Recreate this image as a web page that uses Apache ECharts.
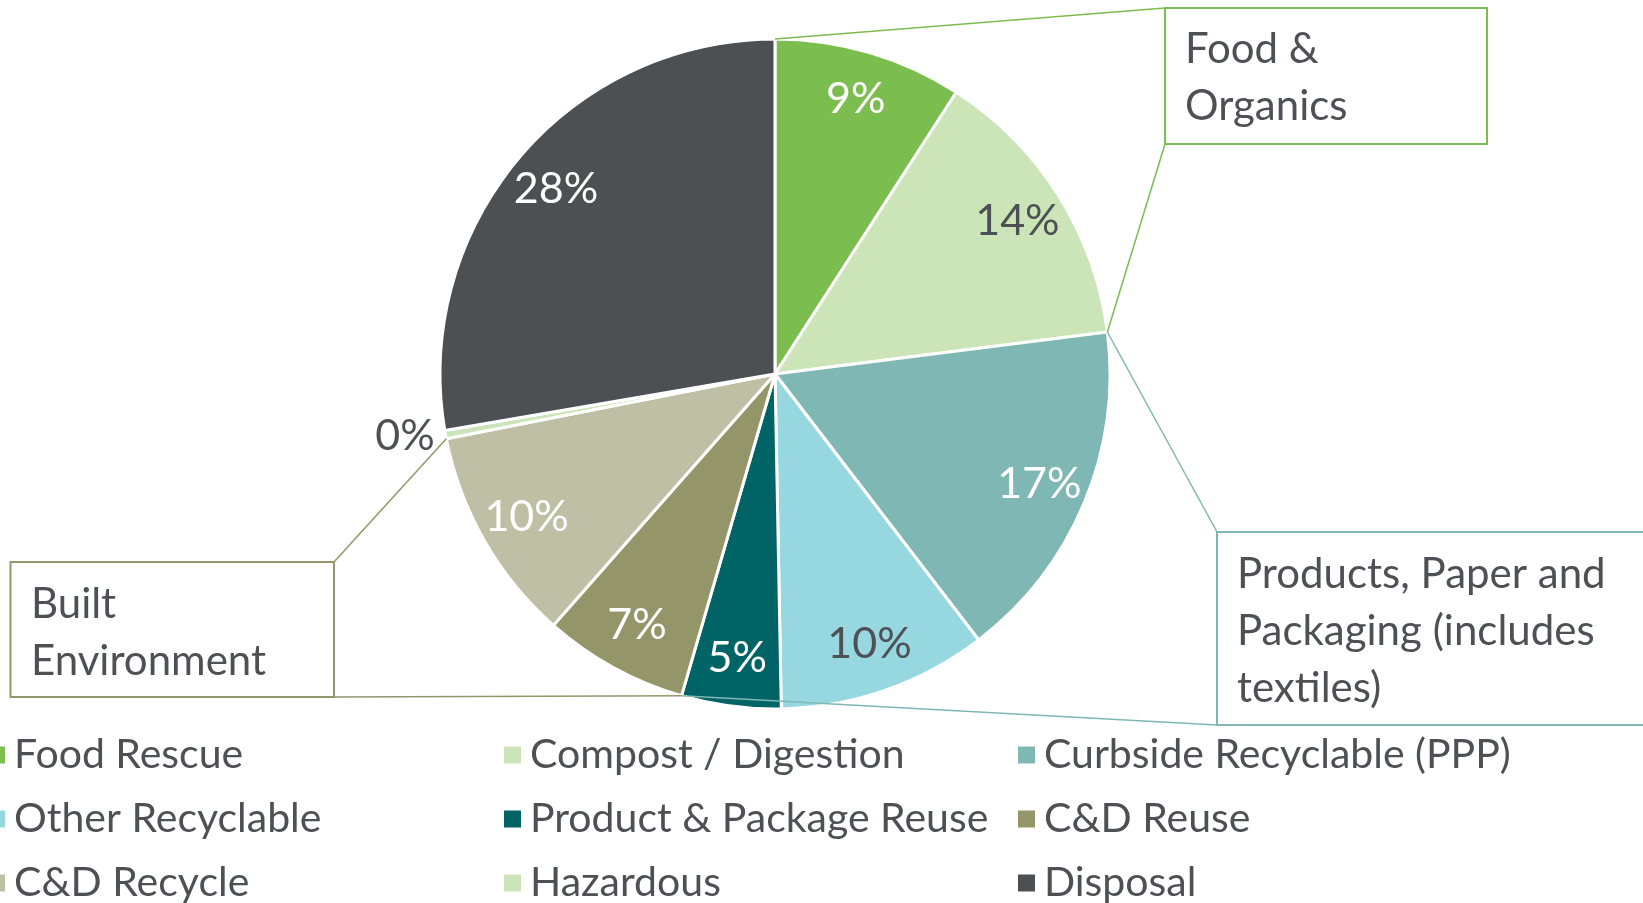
<!DOCTYPE html>
<html><head><meta charset="utf-8">
<script src="https://cdn.jsdelivr.net/npm/echarts@6/dist/echarts.min.js"></script>
<style>html,body{margin:0;padding:0;background:#fff;overflow:hidden}#c{width:1643px;height:903px}</style>
</head><body><div id="c"></div>
<script>
// ---- data ----
const categories = ['Food Rescue','Compost / Digestion','Curbside Recyclable (PPP)','Other Recyclable','Product & Package Reuse','C&D Reuse','C&D Recycle','Hazardous','Disposal'];
const shares = [9.1, 13.9, 16.6, 10.1, 4.8, 7.0, 10.4, 0.4, 27.7];
const sliceColors = ['#7cbd4f','#cce5b8','#7fb7b4','#96d7e0','#006365','#95956a','#bfbfa5','#cce5b8','#4d5053'];
const labelColors = ['#ffffff','#4d5054','#ffffff','#4d5054','#ffffff','#ffffff','#ffffff','#4d5054','#ffffff'];
const groupNames = ['Food &\nOrganics', 'Products, Paper and\nPackaging (includes\ntextiles)', 'Built\nEnvironment'];
const groupFirst = [0, 2, 5];
const groupLast = [1, 4, 6];
const groupColors = ['#7cbd4f', '#7fb7b4', '#95956a'];
const legendColumns = [[0,3,6],[1,4,7],[2,5,8]];

// ---- layout ----
const FONT = 'Lato, "Noto Sans", sans-serif';
const TXT = '#4d5054';
const CX = 775, CY = 374, R = 335;
const total = shares.reduce((a,b)=>a+b,0);
function cumBefore(i){ let s=0; for(let k=0;k<i;k++) s+=shares[k]; return s; }
function edgePoint(cum){
  const a = cum/total*2*Math.PI;
  return [CX + R*Math.sin(a), CY - R*Math.cos(a)];
}

const chart = echarts.init(document.getElementById('c'), null, {renderer:'canvas'});

const mainData = categories.map((n,i)=>{
  const d = {name:n, value:shares[i], itemStyle:{color:sliceColors[i]}};
  if (i === 7) {
    d.label = {show:true, position:'outside', color:TXT, fontSize:43, fontFamily:FONT,
      formatter: p => Math.round(p.value)+'%'};
    d.labelLine = {show:false, length:6, length2:0};
  }
  return d;
});
const overlayData = categories.map((n,i)=>({
  name:n, value:shares[i],
  label:{show: i !== 7, color: labelColors[i]}
}));

// callout boxes
const boxes = [
  {x:1165, y:8, w:322, h:136, tx:1185, ty:21, anchor:'left'},
  {x:1217, y:532, w:440, h:193, tx:1237, ty:546, anchor:'left'},
  {x:10.5, y:562, w:323.5, h:135, tx:31, ty:576, anchor:'right'}
];
const graphics = [];
boxes.forEach((b,gi)=>{
  const col = groupColors[gi];
  const pStart = edgePoint(cumBefore(groupFirst[gi]));
  const pEnd = edgePoint(cumBefore(groupLast[gi]+1));
  graphics.push({type:'rect', z:100, shape:{x:b.x, y:b.y, width:b.w, height:b.h},
    style:{fill:'#fff', stroke:col, lineWidth:2}});
  graphics.push({type:'text', z:101, style:{x:b.tx, y:b.ty, text:groupNames[gi], fill:TXT,
    font:'42px '+FONT, lineHeight:57, verticalAlign:'top'}});
  let c1, c2;
  if (b.anchor === 'left') {
    c1 = [b.x, b.y]; c2 = [b.x, b.y+b.h];
    graphics.push({type:'line', z:100, shape:{x1:pStart[0],y1:pStart[1],x2:c1[0],y2:c1[1]}, style:{stroke:col, lineWidth:1.5}});
    graphics.push({type:'line', z:100, shape:{x1:pEnd[0],y1:pEnd[1],x2:c2[0],y2:c2[1]}, style:{stroke:col, lineWidth:1.5}});
  } else {
    c1 = [b.x+b.w, b.y]; c2 = [b.x+b.w, b.y+b.h];
    graphics.push({type:'line', z:100, shape:{x1:pEnd[0],y1:pEnd[1],x2:c1[0],y2:c1[1]}, style:{stroke:col, lineWidth:1.5}});
    graphics.push({type:'line', z:100, shape:{x1:pStart[0],y1:pStart[1],x2:c2[0],y2:c2[1]}, style:{stroke:col, lineWidth:1.5}});
  }
});

const legendLefts = [-12, 504, 1018];
const legends = legendColumns.map((idx,ci)=>({
  orient:'vertical', left:legendLefts[ci], top:731, height:240, padding:0,
  itemWidth:17, itemHeight:17, itemGap:16, icon:'rect',
  itemStyle:{borderWidth:0},
  textStyle:{fontSize:41, lineHeight:48, color:TXT, fontFamily:FONT, padding:[0,0,0,4]},
  selectedMode:false,
  data: idx.map(i=>categories[i])
}));

chart.setOption({
  animation:false,
  backgroundColor:'#fff',
  legend: legends,
  graphic: {elements: graphics},
  series:[
    {type:'pie', name:'main', center:[CX,CY], radius:[0,R], startAngle:90, clockwise:true,
     avoidLabelOverlap:false, silent:true,
     itemStyle:{borderColor:'#fff', borderWidth:3},
     label:{show:false}, labelLine:{show:false},
     data: mainData},
    {type:'pie', name:'labels', center:[CX,CY], radius:[232,R], startAngle:90, clockwise:true,
     avoidLabelOverlap:false, silent:true, legendHoverLink:false, z:3,
     itemStyle:{color:'rgba(0,0,0,0)', borderWidth:0},
     label:{show:true, position:'inside', fontSize:43, fontFamily:FONT,
       formatter: p => Math.round(p.value)+'%'},
     labelLine:{show:false},
     emphasis:{disabled:true},
     data: overlayData}
  ]
});
</script></body></html>
